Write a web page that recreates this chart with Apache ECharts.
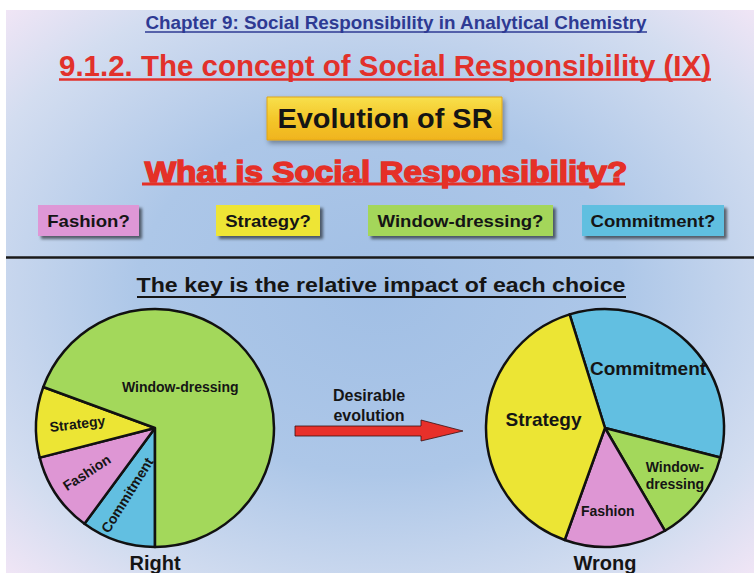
<!DOCTYPE html>
<html>
<head>
<meta charset="utf-8">
<script src="https://cdn.jsdelivr.net/npm/echarts@6.0.0/dist/echarts.min.js"></script>
<style>
  html, body { margin: 0; padding: 0; background: #fff; }
  #chart { width: 754px; height: 573px; }
</style>
</head>
<body>
<div id="chart"></div>
<script>
// Slide: "Evolution of SR" - two pies, the right mix and the wrong one.
const choices = ['Fashion?', 'Strategy?', 'Window-dressing?', 'Commitment?']

// left pie ("Right"), listed clockwise from 6 o'clock
const rightNames = ['Commitment', 'Fashion', 'Strategy', 'Window-dressing']
const rightValues = [10.1, 10.9, 9.6, 69.4]

// right pie ("Wrong"), listed clockwise from the Strategy/Commitment edge
const wrongNames = ['Commitment', 'Window-dressing', 'Fashion', 'Strategy']
const wrongValues = [33.8, 12.6, 13.9, 39.7]

const colors = {
  'Fashion': '#de96d4',
  'Strategy': '#ece534',
  'Window-dressing': '#a3d85b',
  'Commitment': '#62bfe1',
}

const SANS = '"Liberation Sans", Arial, sans-serif'
const ink = '#151515'

// squeeze/stretch a bold text so it spans the width it has on the slide
const ctx = document.createElement('canvas').getContext('2d')
function fit(text, size, width) {
  ctx.font = `bold ${size}px ${SANS}`
  return width / ctx.measureText(text).width
}

function label(text, cx, cy, size, width, fill, extra = {}) {
  const s = fit(text, size, width)
  return {
    type: 'text', x: cx, y: cy, scaleX: s, silent: true,
    style: { text, x: 0, y: 0, align: 'center', verticalAlign: 'middle',
      font: `bold ${size}px ${SANS}`, fill, ...extra },
  }
}
const rule = (x1, x2, y, color, w = 2) => ({
  type: 'line', silent: true,
  shape: { x1, y1: y, x2, y2: y }, style: { stroke: color, lineWidth: w },
})

const boxes = [[38, 101, '#de97d6'], [216, 104, '#eee535'], [368, 185, '#a4d65a'], [582, 142, '#60bfe0']]
const boxScale = fit('Window-dressing?', 17, 166)

const graphic = [
  { type: 'rect', silent: true, z: -10, shape: { x: 6, y: 10, width: 748, height: 563 },
    style: { fill: new echarts.graphic.RadialGradient(0.5, 0.5, 0.72, [
      { offset: 0, color: '#a1bfe5' }, { offset: 0.45, color: '#adc7e8' },
      { offset: 0.8, color: '#d3ddf0' }, { offset: 1, color: '#f3e6f6' }]) } },

  label('Chapter 9: Social Responsibility in Analytical Chemistry', 396, 23, 18, 502, '#2e3a93'),
  rule(145, 647, 32, '#2e3a93', 1.5),

  label('9.1.2. The concept of Social Responsibility (IX)', 385, 66, 29, 652, '#e2312b'),
  rule(59, 711, 79.5, '#e2312b', 2.5),

  { type: 'rect', silent: true, shape: { x: 267, y: 97, width: 235, height: 43 },
    style: { fill: new echarts.graphic.LinearGradient(0, 0, 0, 1, [
      { offset: 0, color: '#f8e04c' }, { offset: 0.5, color: '#f4c72a' }, { offset: 1, color: '#f0b41e' }]),
      stroke: '#e0a418', lineWidth: 1, shadowBlur: 5, shadowOffsetX: 2, shadowOffsetY: 3, shadowColor: 'rgba(0,0,0,0.35)' } },
  label('Evolution of SR', 385, 118, 28, 215, ink),

  label('What is Social Responsibility?', 386, 172, 29, 483, '#e53027',
    { stroke: '#e53027', lineWidth: 1.4, shadowBlur: 1, shadowOffsetX: 2, shadowOffsetY: 2, shadowColor: '#7a1414' }),
  rule(142, 625, 184, '#e53027', 3),

  ...boxes.flatMap(([x, w, c], i) => [
    { type: 'rect', silent: true, shape: { x, y: 205, width: w, height: 31 },
      style: { fill: c, shadowBlur: 3, shadowOffsetX: 3, shadowOffsetY: 3, shadowColor: 'rgba(0,0,0,0.55)' } },
    { type: 'text', silent: true, x: x + w / 2, y: 221, scaleX: boxScale,
      style: { text: choices[i], align: 'center', verticalAlign: 'middle', font: `bold 17px ${SANS}`, fill: ink } },
  ]),

  rule(6, 754, 257.5, '#1a1a1a', 2.5),

  label('The key is the relative impact of each choice', 381, 285, 21, 489, ink),
  rule(137, 626, 297, ink, 2),

  { type: 'text', silent: true, x: 369, y: 405,
    style: { text: 'Desirable\nevolution', align: 'center', verticalAlign: 'middle', lineHeight: 20,
      font: `bold 16px ${SANS}`, fill: ink } },
  { type: 'polygon', silent: true,
    shape: { points: [[295, 426], [421, 426], [421, 420], [463, 431], [421, 441], [421, 436], [295, 436]] },
    style: { fill: '#e8302a', stroke: '#3a1010', lineWidth: 0.8 } },

  { type: 'text', silent: true, x: 155, y: 563,
    style: { text: 'Right', align: 'center', verticalAlign: 'middle', font: `bold 20px ${SANS}`, fill: ink } },
  { type: 'text', silent: true, x: 605, y: 563,
    style: { text: 'Wrong', align: 'center', verticalAlign: 'middle', font: `bold 20px ${SANS}`, fill: ink } },
]

// per-slice label look: [rotate, fontSize, dx, dy]  (dx/dy act in the label's rotated frame)
const rightLabels = {
  'Commitment': [58, 14, -11, -3], 'Fashion': [33, 14, -19, -1],
  'Strategy': [7, 14, -15, -3], 'Window-dressing': [0, 14, -26, -5],
}
const wrongLabels = {
  'Commitment': [0, 19, 0, -14], 'Window-dressing': [0, 14, 20, 10],
  'Fashion': [0, 14, -3, 21], 'Strategy': [0, 19, 1, -7],
}

function pie(center, startAngle, names, values, looks) {
  return {
    type: 'pie', center, radius: 119, startAngle, clockwise: true,
    avoidLabelOverlap: false, silent: true, animation: false,
    itemStyle: { borderColor: '#111', borderWidth: 2.5 },
    emphasis: { disabled: true },
    label: { position: 'inside', color: ink, fontWeight: 'bold', fontFamily: SANS, lineHeight: 17 },
    labelLine: { show: false },
    labelLayout: p => ({ dx: looks[names[p.dataIndex]][2], dy: looks[names[p.dataIndex]][3] }),
    data: names.map((n, i) => ({
      name: n, value: values[i],
      itemStyle: { color: colors[n] },
      label: {
        rotate: looks[n][0], fontSize: looks[n][1],
        formatter: looks === wrongLabels && n === 'Window-dressing' ? 'Window-\ndressing' : '{b}',
      },
    })),
  }
}

const chart = echarts.init(document.getElementById('chart'), null, { renderer: 'svg' })
chart.setOption({
  animation: false,
  graphic,
  series: [
    pie([155, 428], 270, rightNames, rightValues, rightLabels),
    pie([605, 428], 107.3, wrongNames, wrongValues, wrongLabels),
  ],
})
</script>
</body>
</html>
